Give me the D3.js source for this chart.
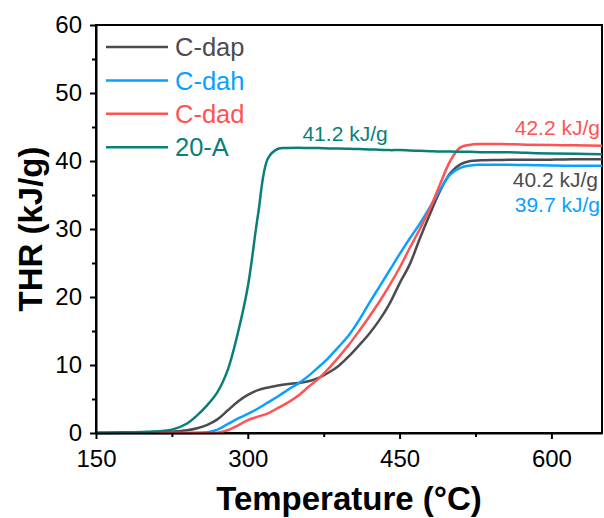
<!DOCTYPE html>
<html>
<head>
<meta charset="utf-8">
<script src="https://cdn.jsdelivr.net/npm/d3@7"></script>
<style>
  body { margin: 0; background: #fff; }
  svg text { font-family: Arial, 'Liberation Sans', sans-serif; }
</style>
</head>
<body>
<div id="chart"></div>
<script>
// data
const temps = [150, 175, 200, 225, 240, 250, 260, 270, 280, 290, 300, 310, 320, 330, 340, 350, 360, 370, 380, 390, 400, 410, 420, 430, 440, 450, 460, 470, 480, 490, 500, 510, 520, 530, 550, 575, 600, 625, 650];
const dap = [0, 0.02, 0.08, 0.2, 0.4, 0.7, 1.2, 2.0, 3.3, 4.6, 5.6, 6.3, 6.7, 7.0, 7.2, 7.35, 7.6, 8.1, 8.9, 9.9, 11.3, 12.9, 14.6, 16.6, 19.0, 22.0, 24.8, 28.6, 32.2, 35.6, 38.2, 39.5, 40.0, 40.1, 40.15, 40.2, 40.2, 40.25, 40.25];
const dah = [0, 0, 0, 0, 0, 0.02, 0.1, 0.5, 1.3, 2.1, 2.8, 3.6, 4.5, 5.4, 6.4, 7.3, 8.4, 9.7, 11.1, 12.7, 14.4, 16.6, 19.1, 21.5, 23.9, 26.3, 28.6, 30.8, 33.2, 35.8, 38.0, 39.0, 39.35, 39.45, 39.45, 39.4, 39.35, 39.3, 39.3];
const dad = [0, 0, 0, 0, 0, 0, 0, 0.05, 0.4, 1.1, 1.9, 2.4, 2.9, 3.7, 4.5, 5.5, 6.8, 8.0, 9.5, 11.2, 13.0, 15.0, 17.1, 19.3, 21.7, 24.3, 27.2, 30.0, 33.0, 36.6, 40.0, 42.0, 42.4, 42.5, 42.5, 42.4, 42.35, 42.3, 42.25];
const a20 = [0.05, 0.1, 0.2, 0.5, 1.4, 2.6, 4.1, 6.0, 9.2, 14.6, 21.5, 32.0, 40.4, 41.8, 41.9, 41.95, 41.9, 41.9, 41.85, 41.85, 41.8, 41.75, 41.7, 41.65, 41.6, 41.6, 41.55, 41.5, 41.45, 41.4, 41.4, 41.35, 41.35, 41.3, 41.3, 41.2, 41.1, 41.05, 41.0];

const seriesNames = ['C-dap', 'C-dah', 'C-dad', '20-A'];
const seriesValues = [dap, dah, dad, a20];
const colors = ['#4b4b50', '#0aa0ff', '#ff5252', '#0a7f78'];

const xTicks = [150, 300, 450, 600];
const xMinor = [225, 375, 525];
const yTicks = [0, 10, 20, 30, 40, 50, 60];
const yMinor = [5, 15, 25, 35, 45, 55];

// end-value labels
const notes = [
    { text: '41.2 kJ/g', t: 354, v: 42.9, color: colors[3], anchor: 'start' },
    { text: '42.2 kJ/g', t: 648, v: 43.8, color: colors[2], anchor: 'end' },
    { text: '40.2 kJ/g', t: 646, v: 36.2, color: colors[0], anchor: 'end' },
    { text: '39.7 kJ/g', t: 648, v: 32.5, color: colors[1], anchor: 'end' },
];

const width = 604;
const height = 518;
const margin = { top: 25, right: 2, bottom: 85, left: 96 };

const svg = d3
    .select('#chart')
    .append('svg')
    .attr('width', width)
    .attr('height', height);

const x = d3
    .scaleLinear()
    .domain([150, 650])
    .range([margin.left, width - margin.right]);

const y = d3
    .scaleLinear()
    .domain([0, 60])
    .range([height - margin.bottom, margin.top]);

// frame
svg.append('rect')
    .attr('x', x(150))
    .attr('y', y(60))
    .attr('width', x(650) - x(150))
    .attr('height', y(0) - y(60))
    .attr('fill', 'none')
    .attr('stroke', '#000')
    .attr('stroke-width', 2);

// lines
const line = d3
    .line()
    .x((d) => x(d[0]))
    .y((d) => y(d[1]))
    .curve(d3.curveCatmullRom.alpha(0.5));

seriesValues.forEach((vals, i) => {
    svg.append('path')
        .datum(temps.map((t, j) => [t, vals[j]]))
        .attr('d', line)
        .attr('fill', 'none')
        .attr('stroke', colors[i])
        .attr('stroke-width', 2.5);
});

// axes
svg.append('g')
    .attr('transform', `translate(0,${y(0)})`)
    .call(d3.axisBottom(x).tickValues(xTicks).tickSize(6).tickSizeOuter(0).tickPadding(11));

svg.append('g')
    .attr('transform', `translate(0,${y(0)})`)
    .call(d3.axisBottom(x).tickValues(xMinor).tickSize(4).tickSizeOuter(0).tickFormat(''))
    .select('.domain')
    .remove();

svg.append('g')
    .attr('transform', `translate(${x(150)},0)`)
    .call(d3.axisLeft(y).tickValues(yTicks).tickSize(6).tickSizeOuter(0).tickPadding(8));

svg.append('g')
    .attr('transform', `translate(${x(150)},0)`)
    .call(d3.axisLeft(y).tickValues(yMinor).tickSize(4).tickSizeOuter(0).tickFormat(''))
    .select('.domain')
    .remove();

svg.selectAll('.domain').attr('stroke-width', 2);
svg.selectAll('.tick line').attr('stroke-width', 2);
svg.selectAll('.tick text')
    .attr('font-size', 24)
    .attr('fill', '#000')
    .style('font-family', 'Arial, "Liberation Sans", sans-serif');

// axis titles
svg.append('text')
    .attr('x', (x(150) + x(650)) / 2)
    .attr('y', 510)
    .attr('text-anchor', 'middle')
    .attr('font-size', 33)
    .attr('font-weight', 'bold')
    .text('Temperature (°C)');

svg.append('text')
    .attr('transform', `translate(42,${(y(0) + y(60)) / 2}) rotate(-90)`)
    .attr('text-anchor', 'middle')
    .attr('font-size', 33)
    .attr('font-weight', 'bold')
    .text('THR (kJ/g)');

// legend
const legend = svg.append('g').attr('transform', 'translate(106,47)');
seriesNames.forEach((name, i) => {
    const row = legend.append('g').attr('transform', `translate(0,${i * 33.4})`);
    row.append('line')
        .attr('x1', 0)
        .attr('x2', 62)
        .attr('stroke', colors[i])
        .attr('stroke-width', 2.5);
    row.append('text')
        .attr('x', 69)
        .attr('dy', '0.36em')
        .attr('font-size', 25.5)
        .attr('fill', colors[i])
        .text(name);
});

// annotations
svg.selectAll('text.note')
    .data(notes)
    .enter()
    .append('text')
    .attr('class', 'note')
    .attr('x', (d) => x(d.t))
    .attr('y', (d) => y(d.v))
    .attr('text-anchor', (d) => d.anchor)
    .attr('font-size', 21)
    .attr('fill', (d) => d.color)
    .text((d) => d.text);
</script>
</body>
</html>
